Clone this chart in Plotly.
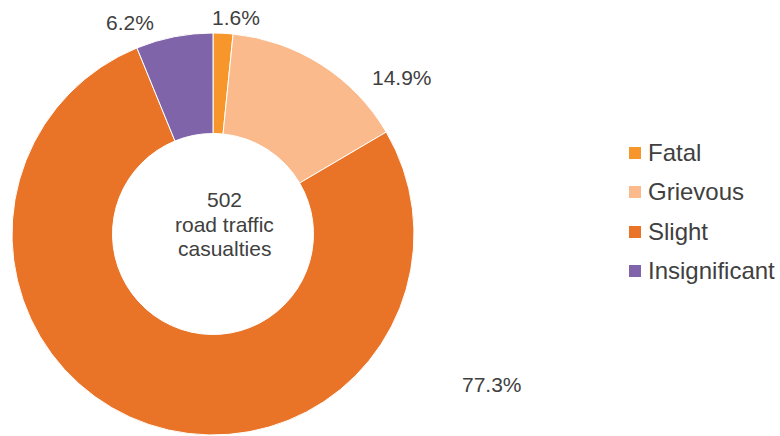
import plotly.graph_objects as go

# Road traffic casualties by severity
categories = ["Fatal", "Grievous", "Slight", "Insignificant"]
counts = [8, 75, 388, 31]
colors = ["#F7962B", "#FBBA8C", "#E97327", "#8064AA"]

total = sum(counts)
shares = [c / total * 100 for c in counts]
centre_lines = [str(total), "road traffic", "casualties"]

W, H = 780, 436
TEXT = "#404040"
FONT = "Liberation Sans, Arial, sans-serif"

fig = go.Figure()
fig.add_trace(go.Pie(
    labels=categories,
    values=counts,
    marker=dict(colors=colors, line=dict(color="white", width=1)),
    hole=0.5,
    sort=False,
    direction="clockwise",
    rotation=0,
    textinfo="none",
    hoverinfo="label+value+percent",
    showlegend=False,
    domain=dict(x=[12 / W, 414 / W], y=[1 - 435 / H, 1 - 33 / H]),
))

# Percentage labels placed around the ring
label_pos = [(236, 17), (402, 77), (492, 384), (130, 22)]
annotations = []
for share, (px, py) in zip(shares, label_pos):
    annotations.append(dict(
        x=px / W, y=1 - py / H, xref="paper", yref="paper",
        text=f"{share:.1f}%", showarrow=False,
        font=dict(family=FONT, size=21, color=TEXT),
        xanchor="center", yanchor="middle",
    ))

# Centre caption, one annotation per line for tighter spacing
for line, py in zip(centre_lines, [199, 224, 248]):
    annotations.append(dict(
        x=225 / W, y=1 - py / H, xref="paper", yref="paper",
        text=line, showarrow=False,
        font=dict(family=FONT, size=21, color=TEXT),
        xanchor="center", yanchor="middle",
    ))

# Legend: square swatch + label per category
shapes = []
legend_y = [153, 192, 232, 271]
for cat, col, ly in zip(categories, colors, legend_y):
    shapes.append(dict(
        type="rect", xref="paper", yref="paper",
        x0=629 / W, x1=641 / W, y0=1 - (ly + 6) / H, y1=1 - (ly - 6) / H,
        fillcolor=col, line=dict(width=0),
    ))
    annotations.append(dict(
        x=646 / W, y=1 - (ly - 1) / H, xref="paper", yref="paper",
        text=cat, showarrow=False,
        font=dict(family=FONT, size=24, color=TEXT),
        xanchor="left", yanchor="middle",
    ))

fig.update_layout(
    width=W, height=H,
    margin=dict(l=0, r=0, t=0, b=0),
    paper_bgcolor="white", plot_bgcolor="white",
    annotations=annotations, shapes=shapes,
)

fig.write_html("out.html")
